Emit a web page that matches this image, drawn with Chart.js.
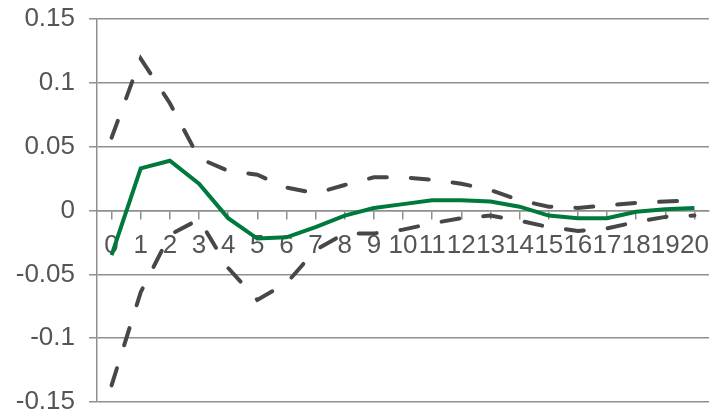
<!DOCTYPE html>
<html>
<head>
<meta charset="utf-8">
<script src="https://cdn.jsdelivr.net/npm/chart.js@4"></script>
<style>
  html, body { margin: 0; padding: 0; background: #ffffff; }
  #wrap { width: 710px; height: 416px; position: relative; }
</style>
</head>
<body>
<div id="wrap"><canvas id="irf-chart"></canvas></div>
<script>
// Horizon (periods)
const horizons = ['0','1','2','3','4','5','6','7','8','9','10','11','12','13','14','15','16','17','18','19','20']

// Impulse response (solid green)
const response = [-0.035, 0.033, 0.039, 0.021, -0.006, -0.022, -0.021, -0.013, -0.004, 0.002, 0.005, 0.008, 0.008, 0.007, 0.003, -0.004, -0.006, -0.006, -0.001, 0.001, 0.002]

// Confidence bands (dashed)
const upperBand = [0.057, 0.119, 0.084, 0.041, 0.031, 0.028, 0.018, 0.0135, 0.02, 0.026, 0.026, 0.024, 0.021, 0.016, 0.008, 0.003, 0.002, 0.004, 0.006, 0.007, 0.008]
const lowerBand = [-0.137, -0.064, -0.019, -0.007, -0.045, -0.07, -0.057, -0.031, -0.018, -0.018, -0.015, -0.01, -0.006, -0.004, -0.008, -0.013, -0.016, -0.014, -0.009, -0.005, -0.004]

// Y axis
const yMin = -0.15
const yMax = 0.15
const yStep = 0.05

const textColor = '#555555'
const gridColor = '#8f8f8f'
const fontFamily = '"Liberation Sans", Arial, sans-serif'

const ctx = document.getElementById('irf-chart').getContext('2d')

new Chart(ctx, {
  type: 'line',
  data: {
    labels: horizons,
    datasets: [
      {
        label: 'Response',
        data: response,
        borderColor: '#00793d',
        borderWidth: 4,
        pointRadius: 0,
        tension: 0,
        fill: false
      },
      {
        label: 'Upper',
        data: upperBand,
        borderColor: '#474747',
        borderWidth: 4,
        borderDash: [18, 24],
        borderCapStyle: 'round',
        pointRadius: 0,
        tension: 0,
        fill: false
      },
      {
        label: 'Lower',
        data: lowerBand,
        borderColor: '#474747',
        borderWidth: 4,
        borderDash: [18, 24],
        borderCapStyle: 'round',
        pointRadius: 0,
        tension: 0,
        fill: false
      }
    ]
  },
  options: {
    responsive: true,
    maintainAspectRatio: false,
    animation: false,
    layout: {
      padding: 0
    },
    plugins: {
      legend: { display: false },
      tooltip: { enabled: false }
    },
    scales: {
      x: {
        type: 'category',
        position: { y: 0 },
        offset: true,
        grid: {
          drawOnChartArea: false,
          drawTicks: true,
          tickLength: 8,
          color: gridColor,
          lineWidth: 1.5
        },
        border: { display: true, color: gridColor, width: 1.5 },
        ticks: {
          color: textColor,
          font: { family: fontFamily, size: 26 },
          padding: 12,
          maxRotation: 0,
          autoSkip: false
        },
        afterFit: function(scale) {
          scale.paddingLeft = 0
          scale.paddingRight = 1
        }
      },
      y: {
        min: yMin,
        max: yMax,
        grid: {
          color: gridColor,
          lineWidth: 1.5,
          drawTicks: true,
          tickLength: 8
        },
        border: { display: true, color: gridColor, width: 1.5 },
        ticks: {
          stepSize: yStep,
          color: textColor,
          font: { family: fontFamily, size: 26 },
          padding: 14,
          callback: function(value) {
            return String(parseFloat(value.toFixed(2)))
          }
        },
        afterFit: function(scale) {
          scale.width = 97
          scale.paddingTop = 19
          scale.paddingBottom = 14
        }
      }
    }
  }
})
</script>
</body>
</html>
